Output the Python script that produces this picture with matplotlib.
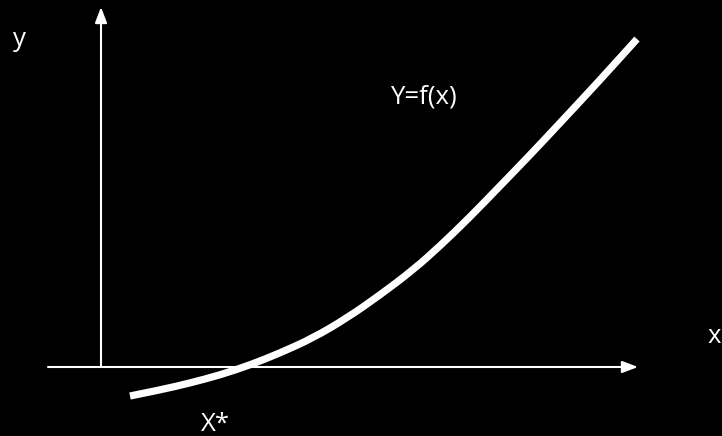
import matplotlib
matplotlib.use("Agg")
import matplotlib.pyplot as plt
from matplotlib.path import Path
from matplotlib.patches import PathPatch

# Curve Y=f(x), coordinates relative to the axis origin (pixel-like units)
curve_x = [29, 59, 89, 119, 149, 179, 212, 246, 279, 312, 339, 369, 399, 429, 459, 499, 536]
curve_y = [-29, -23, -16, -8, 2, 14, 29, 49, 72, 97, 121, 150, 181, 212, 244, 287, 328]

# Axis extents
x_axis_start, x_axis_end = -53, 537
y_axis_start, y_axis_end = 0, 360

labels = {"y": (-82, 327), "x": (613, 31), "Y=f(x)": (322, 270), "X*": (114, -57)}

fig = plt.figure(figsize=(7.22, 4.36), dpi=100, facecolor="black")
ax = fig.add_axes([0, 0, 1, 1])
ax.set_facecolor("black")
ax.set_xlim(-101, 621)
ax.set_ylim(-69, 367)
ax.axis("off")

arrow = dict(arrowstyle="-|>,head_length=0.95,head_width=0.36", color="white",
             lw=1.5, mutation_scale=10, shrinkA=0, shrinkB=0)
ax.annotate("", xy=(x_axis_end, 0), xytext=(x_axis_start, 0), arrowprops=arrow)
ax.annotate("", xy=(0, y_axis_end), xytext=(0, y_axis_start), arrowprops=arrow)

# Smooth curve: read points used as quadratic Bezier control points
pts = list(zip(curve_x, curve_y))
verts = [pts[0]]
codes = [Path.MOVETO]
for i in range(1, len(pts) - 1):
    mid = ((pts[i][0] + pts[i + 1][0]) / 2, (pts[i][1] + pts[i + 1][1]) / 2)
    verts += [pts[i], mid]
    codes += [Path.CURVE3, Path.CURVE3]
verts.append(pts[-1])
codes.append(Path.LINETO)
ax.add_patch(PathPatch(Path(verts, codes), facecolor="none", edgecolor="white",
                       lw=5.2, capstyle="butt", joinstyle="round"))

for txt, (tx, ty) in labels.items():
    ax.text(tx, ty, txt, color="white", fontsize=18.5, family="Open Sans",
            ha="center", va="center")

fig.savefig("out.png", dpi=100, facecolor="black")
